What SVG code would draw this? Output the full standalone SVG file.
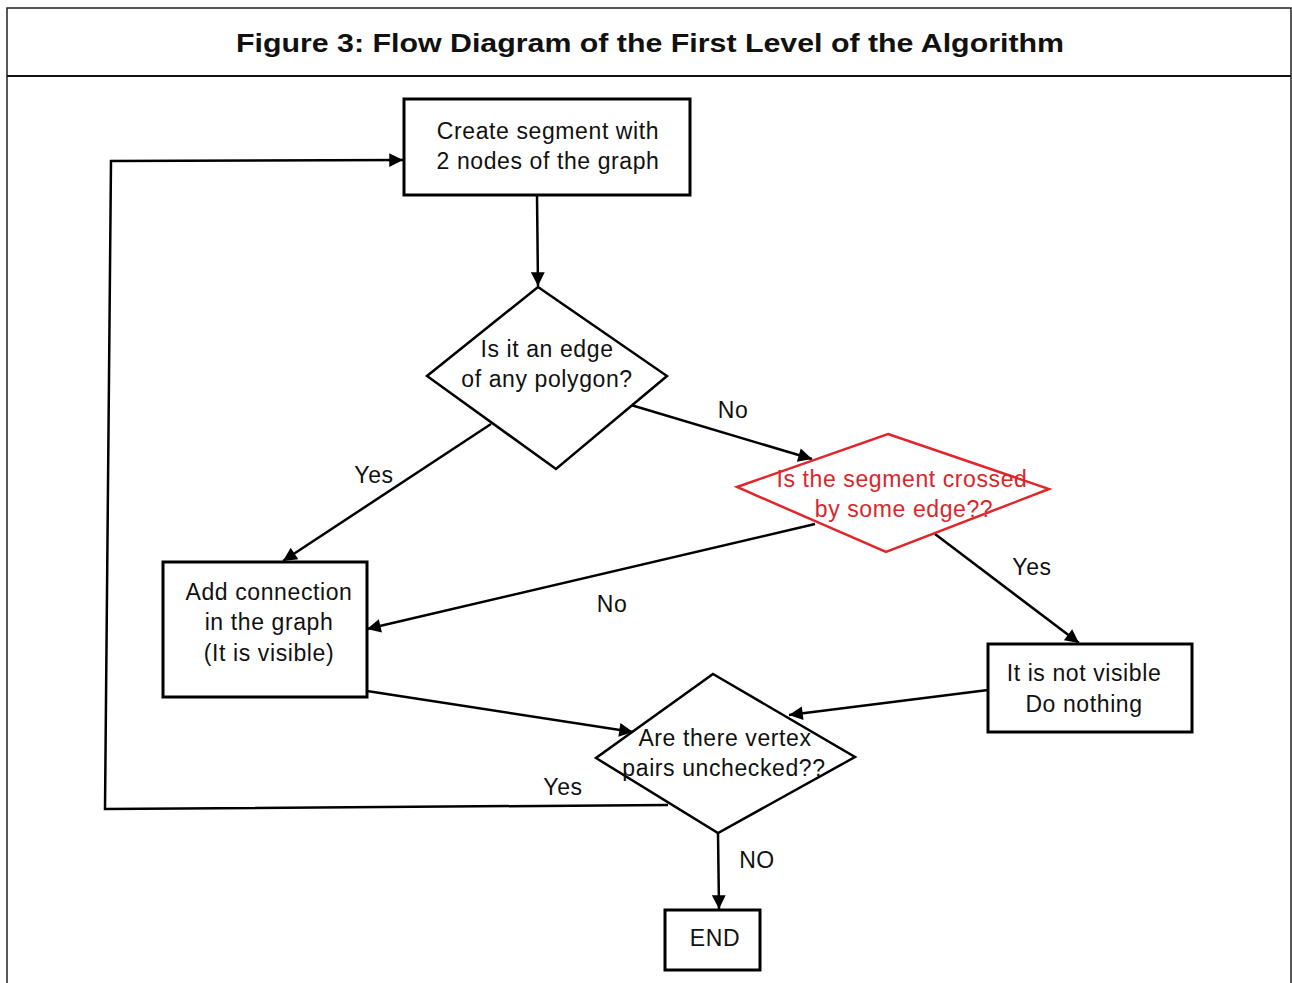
<svg xmlns="http://www.w3.org/2000/svg" width="1292" height="983" viewBox="0 0 1292 983">
<style>
.frame{fill:none;stroke:#222;stroke-width:1.5}
.box{fill:#fff;stroke:#000;stroke-width:3}
.dia{fill:#fff;stroke:#000;stroke-width:2.5}
.red{fill:#fff;stroke:#e0262b;stroke-width:2.5}
.con{fill:none;stroke:#000;stroke-width:2.5}
.t{font-family:"Liberation Sans",Arial,sans-serif;font-size:23px;letter-spacing:0.6px;fill:#111;text-anchor:middle}
.tr{font-family:"Liberation Sans",Arial,sans-serif;font-size:23px;letter-spacing:0.6px;fill:#d9262b;text-anchor:middle}
.title{font-family:"Liberation Sans",Arial,sans-serif;font-size:26px;font-weight:bold;fill:#111;text-anchor:middle}
</style>
<defs>
<marker id="arr" viewBox="0 0 10 10" refX="10" refY="5" markerWidth="7" markerHeight="5.5" markerUnits="strokeWidth" orient="auto">
<path d="M0,0 L10,5 L0,10 z" fill="#000"/>
</marker>
</defs>
<rect width="1292" height="983" fill="#fff"/>
<g id="frame">
<rect x="7" y="8" width="1284" height="990" class="frame"/>
<line x1="7" y1="76" x2="1291" y2="76" stroke="#111" stroke-width="2"/>
<text class="title" x="650" y="52" textLength="828" lengthAdjust="spacingAndGlyphs">Figure 3: Flow Diagram of the First Level of the Algorithm</text>
</g>
<g id="connectors">
<line class="con" x1="537" y1="195" x2="538" y2="286" marker-end="url(#arr)"/>
<line class="con" x1="631" y1="405" x2="812" y2="459" marker-end="url(#arr)"/>
<line class="con" x1="491" y1="424" x2="283" y2="561" marker-end="url(#arr)"/>
<line class="con" x1="815" y1="524" x2="367" y2="629" marker-end="url(#arr)"/>
<line class="con" x1="935" y1="534" x2="1079" y2="643" marker-end="url(#arr)"/>
<line class="con" x1="367" y1="691" x2="633" y2="732" marker-end="url(#arr)"/>
<line class="con" x1="988" y1="690" x2="789" y2="715" marker-end="url(#arr)"/>
<polyline class="con" points="668,805 105,809 111,161 403,160" marker-end="url(#arr)"/>
<line class="con" x1="718" y1="833" x2="719" y2="909" marker-end="url(#arr)"/>
<text class="t" x="733" y="418">No</text>
<text class="t" x="374" y="483">Yes</text>
<text class="t" x="612" y="612">No</text>
<text class="t" x="1032" y="575">Yes</text>
<text class="t" x="563" y="795">Yes</text>
<text class="t" x="757" y="868">NO</text>
</g>
<g id="create">
<rect class="box" x="404" y="99" width="286" height="96"/>
<text class="t" x="548" y="139">Create segment with</text>
<text class="t" x="548" y="169">2 nodes of the graph</text>
</g>
<g id="isEdge">
<polygon class="dia" points="538,287 667,376 556,469 427,376"/>
<text class="t" x="547" y="357">Is it an edge</text>
<text class="t" x="547" y="387">of any polygon?</text>
</g>
<g id="crossed">
<polygon class="red" points="888,434 1049,489 886,552 737,487"/>
<text class="tr" x="902" y="487">Is the segment crossed</text>
<text class="tr" x="904" y="517">by some edge??</text>
</g>
<g id="addConn">
<rect class="box" x="163" y="562" width="204" height="135"/>
<text class="t" x="269" y="600">Add connection</text>
<text class="t" x="269" y="630">in the graph</text>
<text class="t" x="269" y="661">(It is visible)</text>
</g>
<g id="notVisible">
<rect class="box" x="988" y="644" width="204" height="88"/>
<text class="t" x="1084" y="681">It is not visible</text>
<text class="t" x="1084" y="712">Do nothing</text>
</g>
<g id="unchecked">
<polygon class="dia" points="713,674 855,757 718,833 596,758"/>
<text class="t" x="725" y="746">Are there vertex</text>
<text class="t" x="724" y="776">pairs unchecked??</text>
</g>
<g id="end">
<rect class="box" x="665" y="910" width="95" height="60"/>
<text class="t" x="715" y="946">END</text>
</g>
</svg>
